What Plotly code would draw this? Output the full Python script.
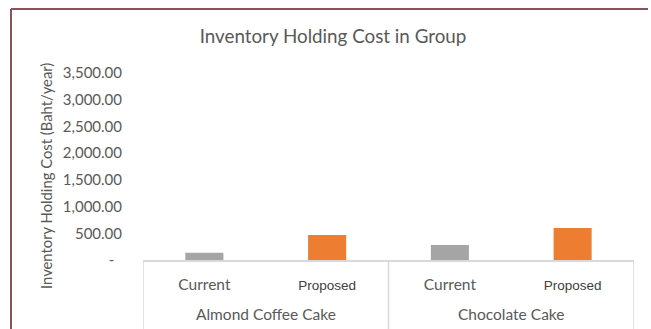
import plotly.graph_objects as go

# Chart data
groups = ["Almond Coffee Cake", "Almond Coffee Cake", "Chocolate Cake", "Chocolate Cake"]
scenarios = ["Current", "Proposed", "Current", "Proposed"]
holding_cost = [135, 470, 280, 600]

y_ticks = [0, 500, 1000, 1500, 2000, 2500, 3000, 3500]
y_tick_text = ["-\u00a0\u00a0", "500.00", "1,000.00", "1,500.00", "2,000.00",
               "2,500.00", "3,000.00", "3,500.00"]

# Styling
W, H = 651, 329
L, R, T, B = 143, 17, 73, 69
plot_w = W - L - R
plot_h = H - T - B

TEXT = "#595959"
FONT = "Lato"
GRID = "#D9D9D9"
FRAME = "#8E5157"
scenario_color = {"Current": "#A5A5A5", "Proposed": "#ED7D31"}
scenario_font = {
    "Current": None,
    "Proposed": "font-family:'Liberation Sans';font-size:13.5px;fill:#404040",
}

keys = [f"{g} | {s}" for g, s in zip(groups, scenarios)]
bar_colors = [scenario_color[s] for s in scenarios]
tick_labels = [
    f"<span style=\"{scenario_font[s]}\">{s}</span>" if scenario_font[s] else s
    for s in scenarios
]


def px_x(px):
    return (px - L) / plot_w


def px_y(py):
    return (H - B - py) / plot_h


fig = go.Figure(
    go.Bar(
        x=keys,
        y=holding_cost,
        marker=dict(color=bar_colors, line=dict(width=0)),
        hovertemplate="%{x}: %{y:,.2f}<extra></extra>",
    )
)

# Group labels below the scenario labels, and the table dividers
annotations = [
    dict(
        text="Inventory Holding Cost (Baht/year)",
        xref="paper", yref="paper",
        x=px_x(46), y=px_y(176),
        xanchor="center", yanchor="middle",
        textangle=-90,
        showarrow=False,
        font=dict(family=FONT, size=14.8, color=TEXT),
    )
]
shapes = []
group_names = list(dict.fromkeys(groups))
boundaries = [-0.5]
for name in group_names:
    idx = [i for i, g in enumerate(groups) if g == name]
    annotations.append(dict(
        text=name, xref="x", yref="paper",
        x=sum(idx) / len(idx), y=px_y(314),
        xanchor="center", yanchor="middle", showarrow=False,
        font=dict(family=FONT, size=15.5, color=TEXT),
    ))
    boundaries.append(max(idx) + 0.5)
for b in boundaries:
    shapes.append(dict(type="line", xref="x", yref="paper",
                       x0=b, x1=b, y0=0, y1=px_y(H + 5),
                       line=dict(color=GRID, width=1.5)))

# Outer frame: top and left edges
shapes += [
    dict(type="line", xref="paper", yref="paper",
         x0=px_x(11), x1=px_x(W - 3), y0=px_y(9), y1=px_y(9),
         line=dict(color=FRAME, width=2)),
    dict(type="line", xref="paper", yref="paper",
         x0=px_x(11), x1=px_x(11), y0=px_y(9), y1=px_y(H),
         line=dict(color=FRAME, width=2)),
]

fig.update_layout(
    width=W,
    height=H,
    margin=dict(l=L, r=R, t=T, b=B, autoexpand=False),
    paper_bgcolor="white",
    plot_bgcolor="white",
    showlegend=False,
    bargap=0.69,
    font=dict(family=FONT, color=TEXT, size=13),
    title=dict(
        text="Inventory Holding Cost in Group",
        x=333 / W,
        xanchor="center",
        y=1 - 36 / H,
        yanchor="middle",
        font=dict(family=FONT, size=18.8, color=TEXT),
    ),
    xaxis=dict(
        type="category",
        range=[-0.5, len(keys) - 0.5],
        tickvals=keys,
        ticktext=tick_labels,
        showline=True,
        linecolor=GRID,
        linewidth=1.5,
        showgrid=False,
        ticks="",
        ticklabelstandoff=10,
        tickfont=dict(family=FONT, size=15.5, color=TEXT),
    ),
    yaxis=dict(
        range=[0, 3500],
        tickvals=y_ticks,
        ticktext=y_tick_text,
        showgrid=False,
        zeroline=False,
        showline=False,
        ticks="",
        ticklabelstandoff=20,
        tickfont=dict(family=FONT, size=15, color=TEXT),
    ),
    annotations=annotations,
    shapes=shapes,
)

fig.write_html("out.html")
